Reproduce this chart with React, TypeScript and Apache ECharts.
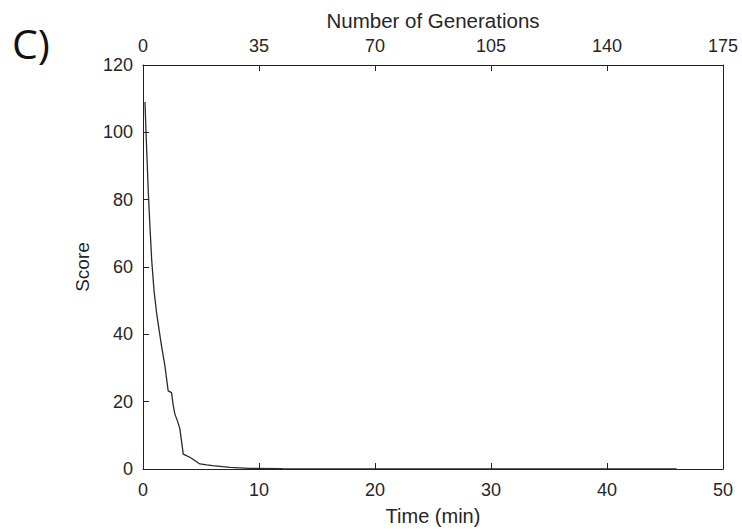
import React, { useEffect, useRef } from "react";
import * as echarts from "echarts";

const timeMin = [0.17, 0.26, 0.46, 0.6, 0.75, 0.95, 1.17, 1.4, 1.6, 1.89, 2.17, 2.46, 2.6, 2.75, 3.0, 3.18, 3.47, 3.6, 4.04, 4.47, 4.9, 5.5, 6.0, 7.5, 9.2, 12, 20, 30, 40, 46];
const score = [109, 100, 82, 72, 62, 53, 46.4, 41, 36.5, 30.6, 23.2, 22.7, 19, 16.3, 14, 11.9, 4.4, 4.2, 3.5, 2.5, 1.5, 1.2, 1.0, 0.5, 0.2, 0.1, 0.05, 0.05, 0.05, 0.05];

const timeTicks = { min: 0, max: 50, interval: 10 };
const genTicks = { min: 0, max: 175, interval: 35 };
const scoreTicks = { min: 0, max: 120, interval: 20 };

const FONT = "Liberation Sans, Arial, sans-serif";
const TXT = "#262626";

export default function App() {
  const ref = useRef<HTMLDivElement>(null);
  useEffect(() => {
    if (!ref.current) return;
    const chart = echarts.init(ref.current, null, { renderer: "svg" });
    const axisLine = { show: true, onZero: false, lineStyle: { color: "#222", width: 1 } };
    const tick = { show: true, inside: true, length: 6, lineStyle: { color: "#222" } };
    chart.setOption({
      animation: false,
      backgroundColor: "#fff",
      textStyle: { fontFamily: FONT },
      grid: { left: 143, right: 19, top: 65, bottom: 61, containLabel: false },
      graphic: [
        {
          type: "text",
          left: 12,
          top: 22,
          style: { text: "C)", fontSize: 41, fontFamily: "Open Sans, Liberation Sans, sans-serif", fill: "#111" },
        },
      ],
      xAxis: [
        {
          type: "value",
          position: "bottom",
          ...timeTicks,
          name: "Time (min)",
          nameLocation: "middle",
          nameGap: 37,
          nameTextStyle: { fontSize: 20, color: TXT, fontFamily: FONT },
          axisLine,
          axisTick: tick,
          axisLabel: { fontSize: 18, color: TXT, margin: 12, fontFamily: FONT },
          splitLine: { show: false },
        },
        {
          type: "value",
          position: "top",
          ...genTicks,
          name: "Number of Generations",
          nameLocation: "middle",
          nameGap: 34,
          nameTextStyle: { fontSize: 20.5, color: TXT, fontFamily: FONT },
          axisLine,
          axisTick: tick,
          axisLabel: { fontSize: 18, color: TXT, margin: 10, fontFamily: FONT },
          splitLine: { show: false },
        },
      ],
      yAxis: [
        {
          type: "value",
          position: "left",
          ...scoreTicks,
          name: "Score",
          nameLocation: "middle",
          nameGap: 48,
          nameTextStyle: { fontSize: 19, color: TXT, fontFamily: FONT },
          axisLine,
          axisTick: tick,
          axisLabel: { fontSize: 18, color: TXT, margin: 10, fontFamily: FONT },
          splitLine: { show: false },
        },
        {
          type: "value",
          position: "right",
          ...scoreTicks,
          axisLine,
          axisTick: { show: false },
          axisLabel: { show: false },
          splitLine: { show: false },
        },
      ],
      series: [
        {
          type: "line",
          xAxisIndex: 0,
          yAxisIndex: 0,
          data: timeMin.map((t, i) => [t, score[i]]),
          showSymbol: false,
          lineStyle: { color: "#2a2a2a", width: 1.3 },
        },
      ],
    });
    return () => chart.dispose();
  }, []);
  return <div ref={ref} style={{ width: 742, height: 531, position: "absolute", left: 0, top: 0 }} />;
}
